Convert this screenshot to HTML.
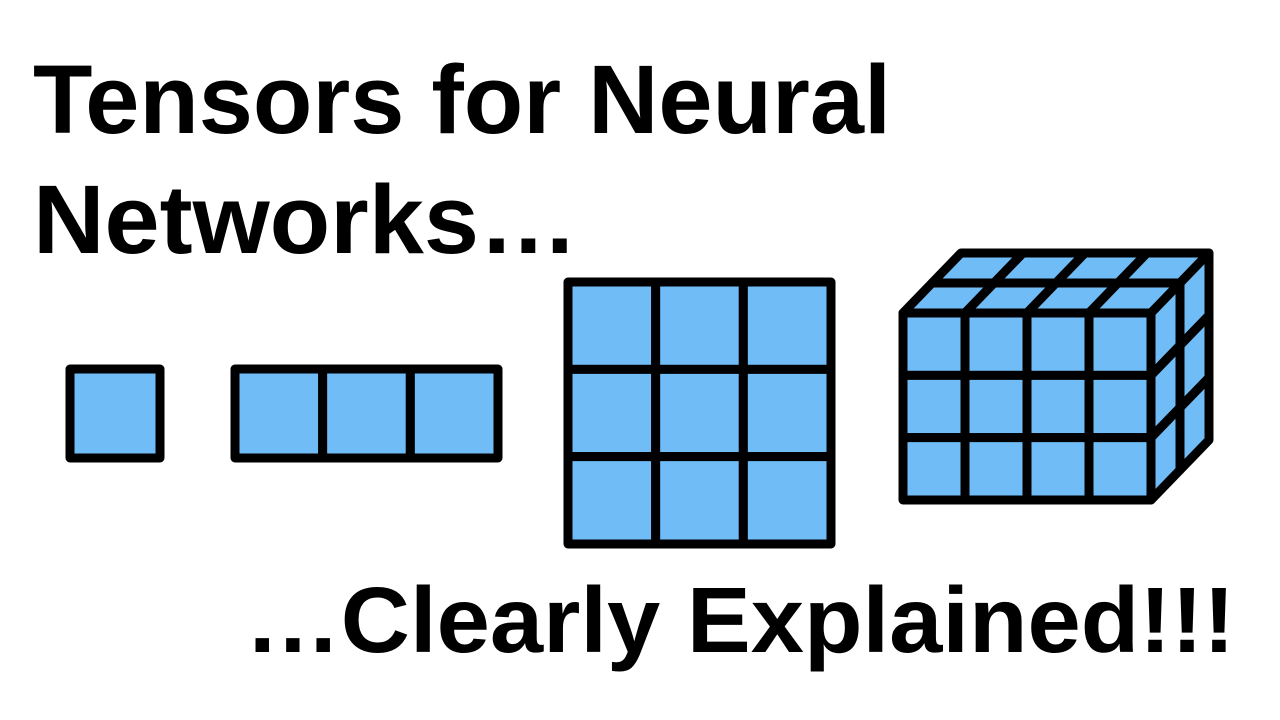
<!DOCTYPE html>
<html><head><meta charset="utf-8"><style>
html,body{margin:0;padding:0;background:#fff;width:1280px;height:720px;overflow:hidden}
svg{display:block}
text{font-family:"Liberation Sans",Arial,sans-serif;font-weight:bold;fill:#000}
</style></head><body>
<svg id="s" width="1280" height="720" viewBox="0 0 1280 720">
<rect width="1280" height="720" fill="#fff"/>
<text x="33" y="133" font-size="97" textLength="858" lengthAdjust="spacingAndGlyphs">Tensors for Neural</text>
<text x="33" y="253" font-size="97" textLength="545" lengthAdjust="spacingAndGlyphs">Networks…</text>
<text x="245" y="652" font-size="93" textLength="990" lengthAdjust="spacingAndGlyphs">…Clearly Explained!!!</text>
<g id="shapes" stroke="#000" stroke-width="9" stroke-linejoin="round" fill="#6fbcf7"></g>
</svg>
<script>
const g=document.getElementById('shapes');
function poly(pts,name){const p=document.createElementNS('http://www.w3.org/2000/svg','polygon');
p.setAttribute('points',pts.map(a=>a.join(',')).join(' '));


g.appendChild(p);}
function grid(x,y,w,h,cols,rows,name){
 const cw=w/cols,ch=h/rows;
 for(let r=0;r<rows;r++)for(let c=0;c<cols;c++){
  const x0=x+c*cw,y0=y+r*ch;
  poly([[x0,y0],[x0+cw,y0],[x0+cw,y0+ch],[x0,y0+ch]],name+'-cell');
 }}
grid(70,369,90,89,1,1,'scalar');
grid(235,369,263,89,3,1,'vector');
grid(568,282,263,262,3,3,'matrix');
const fx=903,fy=313,fw=248,fh=187,cols=4,rows=3,depth=2,dx=29,dy=-30;
const cw=fw/cols,ch=fh/rows;
for(let r=0;r<rows;r++)for(let c=0;c<cols;c++){
 const x0=fx+c*cw,y0=fy+r*ch;
 poly([[x0,y0],[x0+cw,y0],[x0+cw,y0+ch],[x0,y0+ch]],'cube-front-cell');}
for(let d=0;d<depth;d++)for(let c=0;c<cols;c++){
 const x0=fx+c*cw+d*dx,y0=fy+d*dy;
 poly([[x0,y0],[x0+cw,y0],[x0+cw+dx,y0+dy],[x0+dx,y0+dy]],'cube-top-cell');}
for(let d=0;d<depth;d++)for(let r=0;r<rows;r++){
 const x0=fx+fw+d*dx,y0=fy+r*ch+d*dy;
 poly([[x0,y0],[x0+dx,y0+dy],[x0+dx,y0+dy+ch],[x0,y0+ch]],'cube-side-cell');}
</script>
</body></html>
